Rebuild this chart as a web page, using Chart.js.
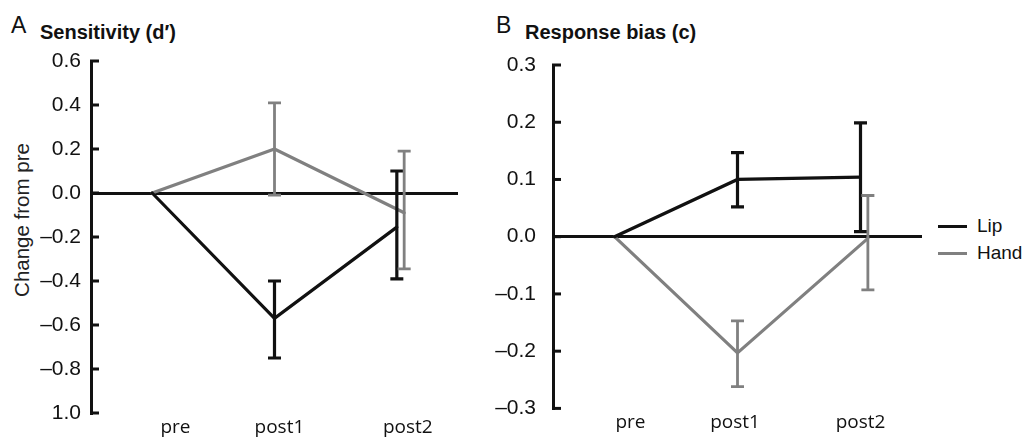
<!DOCTYPE html>
<html>
<head>
<meta charset="utf-8">
<script src="https://cdn.jsdelivr.net/npm/chart.js@4"></script>
<style>
  html, body { margin:0; padding:0; background:#fff; }
  body { width:1027px; height:438px; position:relative; overflow:hidden; font-family:"Liberation Sans", Arial, sans-serif; color:#111; }
  .box { position:absolute; top:0; height:438px; }
  .lab { position:absolute; white-space:nowrap; }
  .letter { font-size:23px; }
  .ttl { font-size:20px; font-weight:bold; }
  #ytitle { font-size:20.5px; transform:translate(-50%,-50%) rotate(-90deg); left:22px; top:220px; color:#222; }
  .leg { position:absolute; left:938px; font-size:19px; }
  .leg span.sw { position:absolute; left:0; width:29px; height:3px; }
  .leg span.tx { position:absolute; left:39px; transform:translateY(-50%); }
</style>
</head>
<body>
<div class="lab letter" style="left:11px;top:12px">A</div>
<div class="lab ttl" style="left:40px;top:21px">Sensitivity (d′)</div>
<div class="lab letter" style="left:496px;top:12px">B</div>
<div class="lab ttl" style="left:525px;top:21px">Response bias (c)</div>
<div class="lab" id="ytitle">Change from pre</div>
<div id="legend"></div>

<div class="box" style="left:0;width:470px"><canvas id="chartA"></canvas></div>
<div class="box" style="left:470px;width:557px"><canvas id="chartB"></canvas></div>

<script>
// data
var stages = ['pre', 'post1', 'post2']
var seriesNames = ['Lip', 'Hand']

// A: change of d' from pre
var lipDprime    = [0, -0.57, -0.155]
var lipDprimeHi  = [null, -0.40, 0.10]
var lipDprimeLo  = [null, -0.75, -0.39]
var handDprime   = [0, 0.20, -0.09]
var handDprimeHi = [null, 0.41, 0.19]
var handDprimeLo = [null, -0.01, -0.345]
var ticksDprime  = ['1.0', '–0.8', '–0.6', '–0.4', '–0.2', '0.0', '0.2', '0.4', '0.6']

// B: change of c from pre
var lipBias    = [0, 0.10, 0.104]
var lipBiasHi  = [null, 0.147, 0.199]
var lipBiasLo  = [null, 0.052, 0.009]
var handBias   = [0, -0.203, -0.003]
var handBiasHi = [null, -0.147, 0.072]
var handBiasLo = [null, -0.262, -0.093]
var ticksBias  = ['–0.3', '–0.2', '–0.1', '0.0', '0.1', '0.2', '0.3']

var colors = ['#111111', '#808080']
var handShift = [0, 0, 0.06]   // hand drawn a bit right at post2

function points(vals, shift) {
    return vals.map((v, i) => ({ x: i + (shift ? shift[i] : 0), y: v }))
}

// vertical error bars with caps
var errorBars = {
    id: 'errorBars',
    afterDatasetsDraw(chart) {
        var ctx = chart.ctx
        var ys = chart.scales.y
        chart.data.datasets.forEach((ds, i) => {
            if (!ds.errHi) return
            var meta = chart.getDatasetMeta(i)
            ctx.save()
            ctx.strokeStyle = ds.borderColor
            ctx.lineWidth = ds.errWidth
            meta.data.forEach((pt, j) => {
                if (ds.errHi[j] == null) return
                var x = pt.x
                var yh = ys.getPixelForValue(ds.errHi[j])
                var yl = ys.getPixelForValue(ds.errLo[j])
                ctx.beginPath()
                ctx.moveTo(x, yh); ctx.lineTo(x, yl)
                ctx.moveTo(x - 6.5, yh); ctx.lineTo(x + 6.5, yh)
                ctx.moveTo(x - 6.5, yl); ctx.lineTo(x + 6.5, yl)
                ctx.stroke()
            })
            ctx.restore()
        })
    }
}

// small tick marks pointing into the plot
var innerTicks = {
    id: 'innerTicks',
    afterDraw(chart) {
        var ctx = chart.ctx
        var ys = chart.scales.y
        var left = chart.chartArea.left
        ctx.save()
        ctx.strokeStyle = '#111'
        ctx.lineWidth = 3
        ys.ticks.forEach(t => {
            var y = ys.getPixelForValue(t.value)
            ctx.beginPath()
            ctx.moveTo(left - 1, y); ctx.lineTo(left + 8, y)
            ctx.stroke()
        })
        ctx.restore()
    }
}

function makeChart(id, o) {
    return new Chart(document.getElementById(id), {
        type: 'line',
        data: {
            datasets: [
                { label: seriesNames[0], data: points(o.lip), borderColor: colors[0], borderWidth: 3.2,
                  errHi: o.lipHi, errLo: o.lipLo, errWidth: 3.2 },
                { label: seriesNames[1], data: points(o.hand, handShift), borderColor: colors[1], borderWidth: 3.2,
                  errHi: o.handHi, errLo: o.handLo, errWidth: 2.8 }
            ]
        },
        options: {
            responsive: true,
            maintainAspectRatio: false,
            animation: false,
            events: [],
            elements: { point: { radius: 0 }, line: { tension: 0, borderCapStyle: 'round' } },
            layout: { padding: o.pad },
            plugins: { legend: { display: false }, tooltip: { enabled: false } },
            scales: {
                x: {
                    type: 'linear', min: -0.5, max: 2.5,
                    grid: { display: false },
                    border: { display: false },
                    afterBuildTicks: s => { s.ticks = o.labelPos.map(v => ({ value: v })) },
                    afterFit: s => { s.height = 25 },
                    ticks: {
                        autoSkip: false, maxRotation: 0, padding: -5,
                        color: '#111',
                        font: { family: '"Open Sans", sans-serif', size: 19 },
                        callback: (v, i) => stages[i]
                    }
                },
                y: {
                    min: o.min, max: o.max,
                    border: { display: true, color: '#111', width: 3 },
                    grid: {
                        drawTicks: false,
                        lineWidth: 3,
                        color: c => Math.abs(c.tick.value) < 1e-9 ? '#111' : 'rgba(0,0,0,0)'
                    },
                    afterFit: s => { s.width = o.yWidth },
                    ticks: {
                        stepSize: o.step, padding: o.tickPad,
                        color: '#111',
                        font: { family: '"Liberation Sans", Arial, sans-serif', size: 21 },
                        callback: (v, i) => o.tickText[i]
                    }
                }
            }
        },
        plugins: [errorBars, innerTicks]
    })
}

makeChart('chartA', {
    lip: lipDprime, lipHi: lipDprimeHi, lipLo: lipDprimeLo,
    hand: handDprime, handHi: handDprimeHi, handLo: handDprimeLo,
    min: -1, max: 0.6, step: 0.2, tickText: ticksDprime,
    yWidth: 91, tickPad: 10, labelPos: [0.19, 1.04, 2.09],
    pad: { left: 0, right: 12, top: 61, bottom: 0 }
})

makeChart('chartB', {
    lip: lipBias, lipHi: lipBiasHi, lipLo: lipBiasLo,
    hand: handBias, handHi: handBiasHi, handLo: handBiasLo,
    min: -0.3, max: 0.3, step: 0.1, tickText: ticksBias,
    yWidth: 83, tickPad: 17, labelPos: [0.13, 0.98, 2],
    pad: { left: 0, right: 105, top: 65, bottom: 0 }
})

// legend to the right of panel B
var legend = document.getElementById('legend')
var legendY = [226, 253]
seriesNames.forEach((name, i) => {
    var d = document.createElement('div')
    d.className = 'leg'
    d.style.top = legendY[i] + 'px'
    d.innerHTML = '<span class="sw" style="background:' + colors[i] + ';top:-1.5px"></span><span class="tx">' + name + '</span>'
    legend.appendChild(d)
})
</script>
</body>
</html>
